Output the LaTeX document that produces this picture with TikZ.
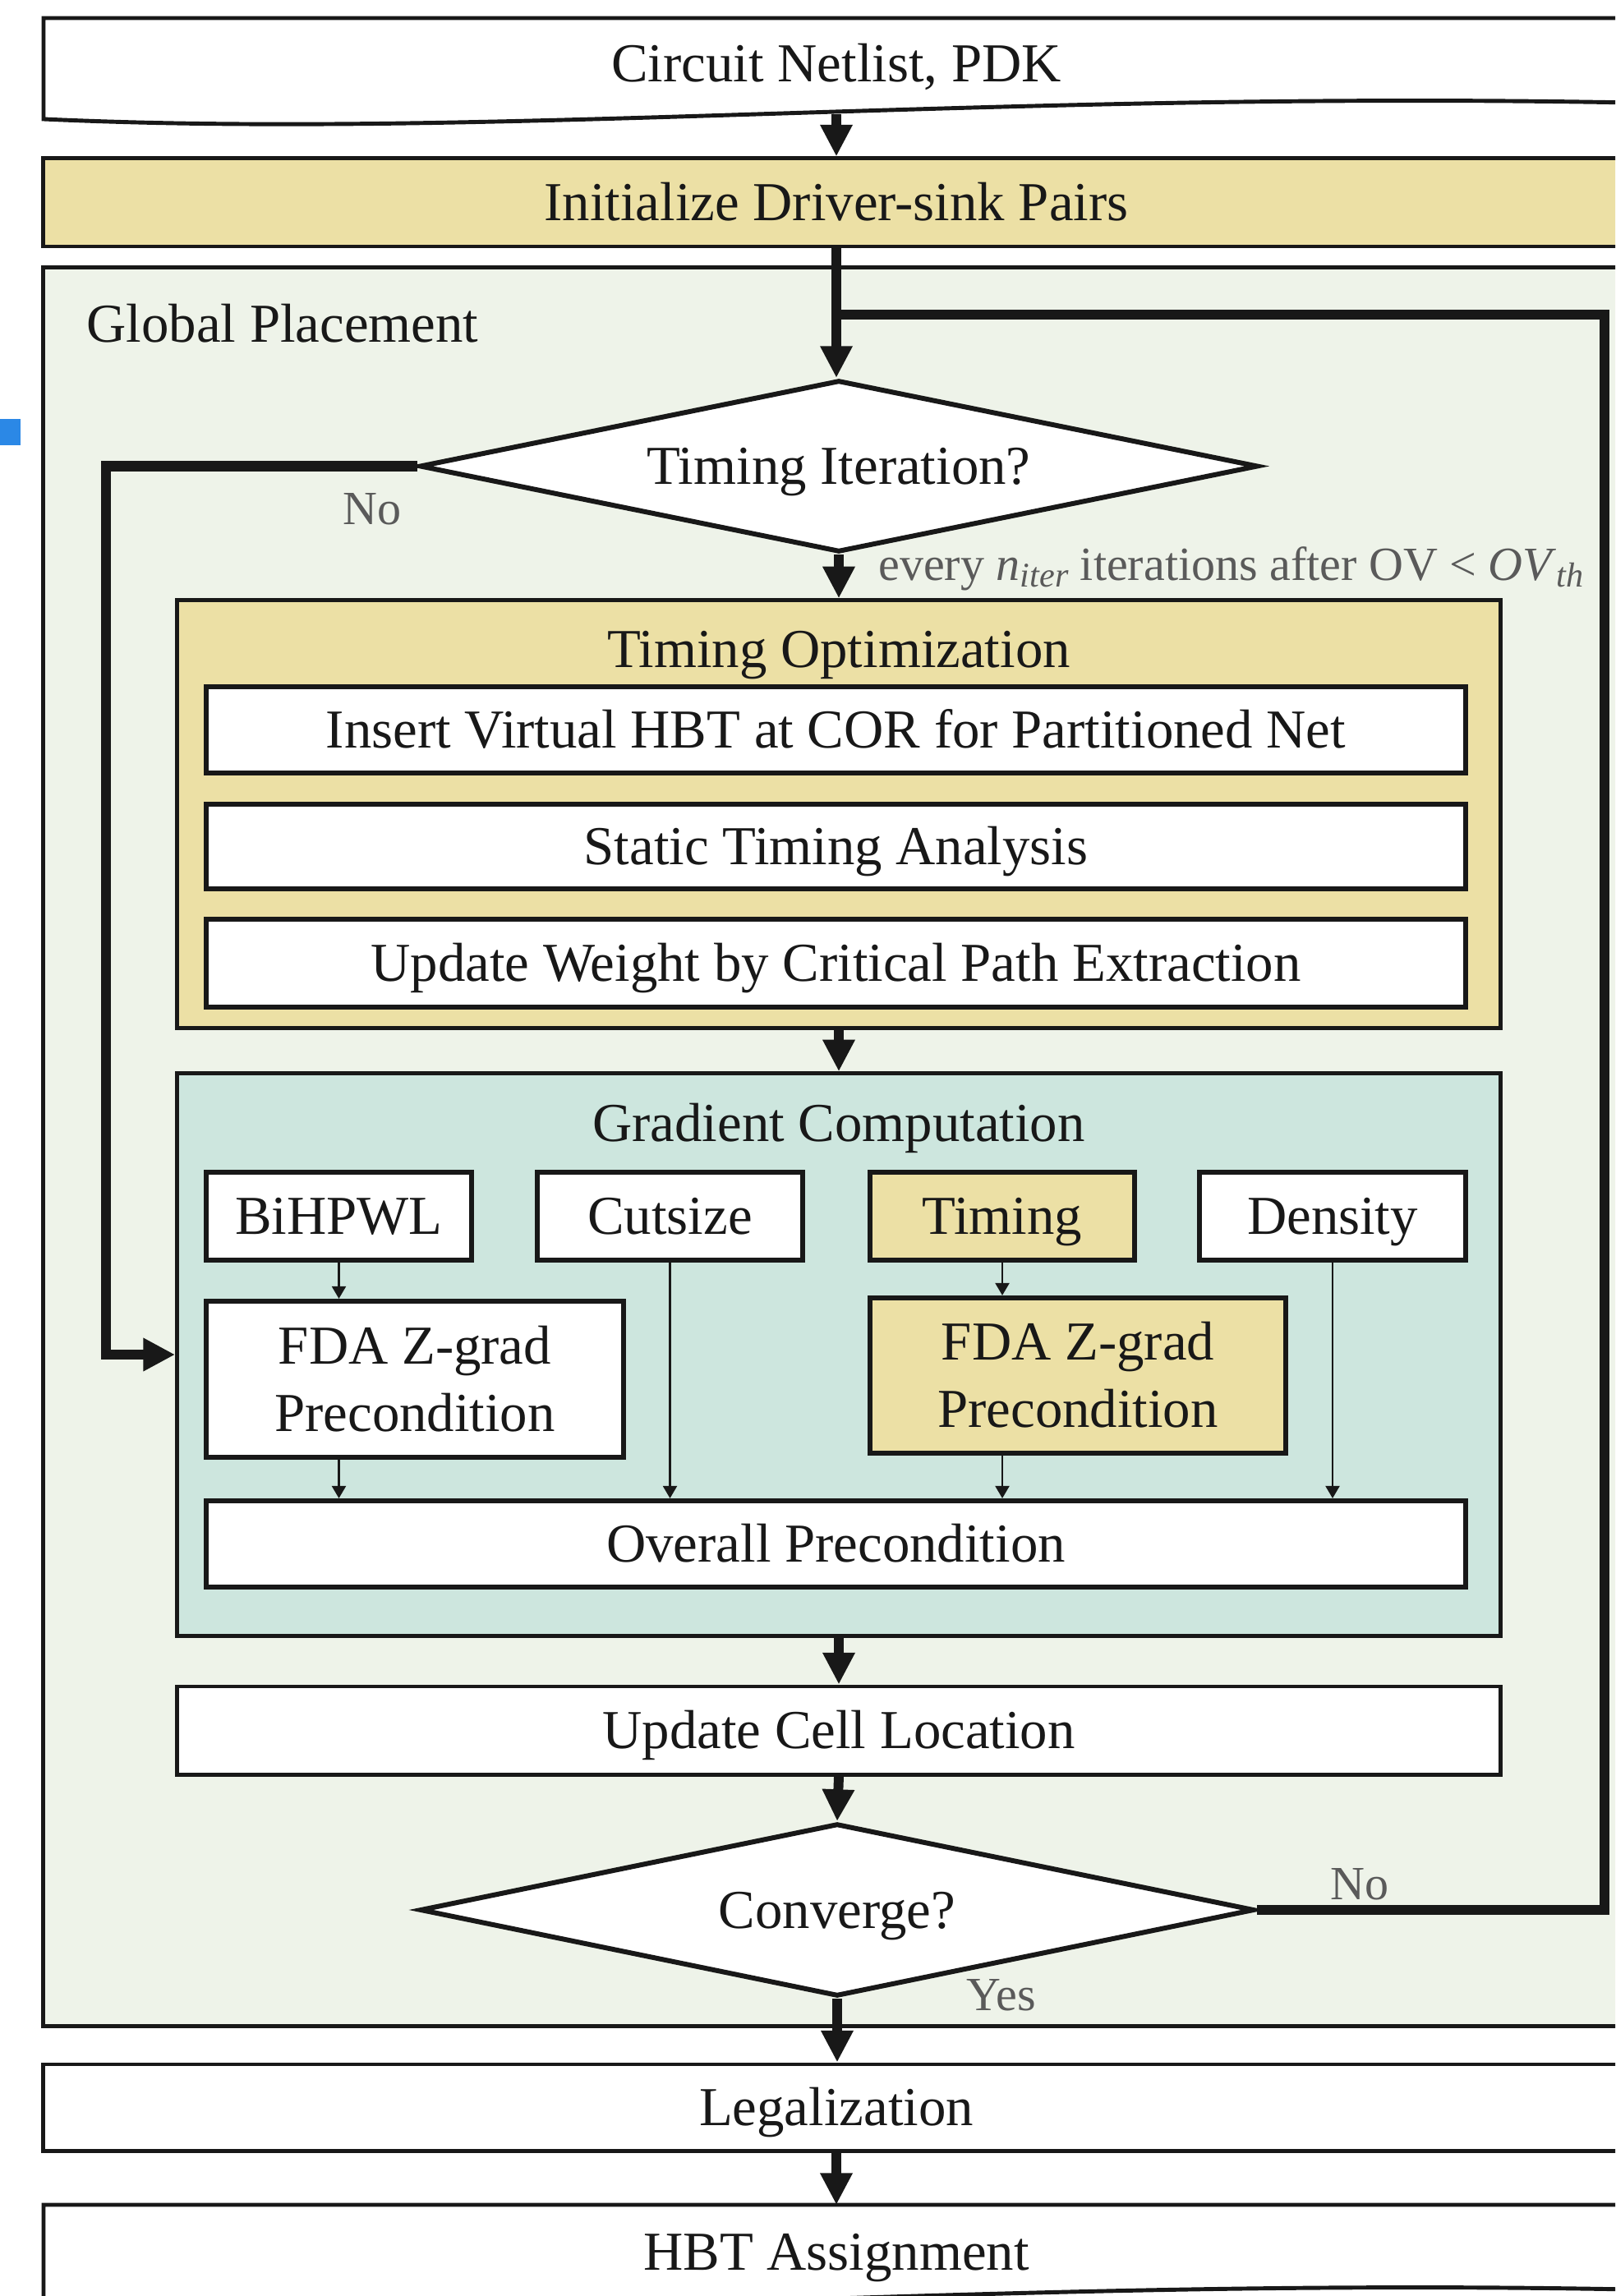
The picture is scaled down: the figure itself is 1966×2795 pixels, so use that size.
\documentclass[tikz,border=0pt]{standalone}
\usepackage{fontspec}
\setmainfont{Liberation Serif}
\usetikzlibrary{shapes.geometric,arrows.meta}
\definecolor{ylw}{RGB}{236,224,165}
\definecolor{bgg}{RGB}{238,243,233}
\definecolor{teal2}{RGB}{205,230,222}
\definecolor{ink}{RGB}{24,24,24}
\definecolor{lbl}{RGB}{90,90,90}
\definecolor{bluem}{RGB}{43,136,230}
\newcommand{\mysub}[1]{\raisebox{-2.2pt}{\fontsize{12}{12}\selectfont\itshape #1}}
\begin{document}
\begin{tikzpicture}[x=0.01cm,y=-0.01cm,
  txt/.style={font=\fontsize{19}{23.3}\selectfont, text=ink, text height=14pt, text depth=1.4pt},
  smalllbl/.style={font=\fontsize{16.5}{20}\selectfont, text=lbl},
  box/.style={txt, draw=ink, line width=1.7pt, fill=white, inner sep=0pt, align=center},
  twoline/.style={text height=37.3pt, text depth=1.4pt},
  cont/.style={draw=ink, line width=1.4pt, inner sep=0pt},
  dia/.style={txt, diamond, draw=ink, line width=1.7pt, fill=white, inner sep=0pt},
  docst/.style={draw=ink, line width=1.4pt, fill=white},
  arr/.style={draw=ink, line width=3.4pt, -{Triangle[length=11pt,width=10.5pt]}},
  loopl/.style={draw=ink, line width=3.6pt, line join=miter},
  looparr/.style={draw=ink, line width=3.6pt, line join=miter, -{Triangle[length=11pt,width=10.8pt]}},
  sarr/.style={draw=ink, line width=0.8pt, -{Triangle[length=4.3pt,width=4.8pt]}}
]
\useasboundingbox (0,0) rectangle (1966,2795);
\clip (0,0) rectangle (1966,2795);
\fill[white] (0,0) rectangle (1966,2795);

% blue mark at left edge
\fill[bluem] (0,510) rectangle (25,542);

% input document shape
\path[docst] (53,22) -- (1983,22) -- (1983,125) .. controls (1200,110) and (600,170) .. (53,145) -- cycle;
\node[txt] (netlist) at (1018,77) {Circuit Netlist, PDK};
\coordinate (nlb) at (1018,139);

% initialize
\node[box, fill=ylw, line width=1.4pt, minimum width=19.30cm, minimum height=1.07cm] (init) at (1018,246.5) {Initialize Driver-sink Pairs};

% global placement container
\node[cont, fill=bgg, minimum width=19.30cm, minimum height=21.40cm] (gp) at (1018,1396) {};
\node[txt, anchor=west] (gplbl) at (93,394) {Global Placement};

% timing iteration diamond
\node[dia, aspect=4.88, minimum width=10.20cm, minimum height=2.09cm] (tio) at (1021,567.5) {Timing Iteration?};

% timing optimization
\node[cont, fill=ylw, minimum width=16.10cm, minimum height=5.20cm] (topt) at (1021,991) {};
\node[txt] (topttitle) at (1021,790) {Timing Optimization};
\node[box, minimum width=15.33cm, minimum height=1.05cm] (ins) at (1017.5,888.5) {Insert Virtual HBT at COR for Partitioned Net};
\node[box, minimum width=15.33cm, minimum height=1.03cm] (sta) at (1017.5,1030.5) {Static Timing Analysis};
\node[box, minimum width=15.33cm, minimum height=1.07cm] (upw) at (1017.5,1172.5) {Update Weight by Critical Path Extraction};

% gradient computation
\node[cont, fill=teal2, minimum width=16.10cm, minimum height=6.84cm] (grad) at (1021,1649) {};
\node[txt] (gradtitle) at (1021,1367) {Gradient Computation};
\node[box, minimum width=3.23cm, minimum height=1.06cm] (bihpwl) at (412.5,1480.5) {BiHPWL};
\node[box, minimum width=3.23cm, minimum height=1.06cm] (cut) at (815.5,1480.5) {Cutsize};
\node[box, fill=ylw, minimum width=3.21cm, minimum height=1.06cm] (tim) at (1220,1480.5) {Timing};
\node[box, minimum width=3.24cm, minimum height=1.06cm] (den) at (1622,1480.5) {Density};
\node[box, twoline, minimum width=5.08cm, minimum height=1.90cm] (fda1) at (505,1679) {FDA Z-grad\\Precondition};
\node[box, twoline, fill=ylw, minimum width=5.05cm, minimum height=1.89cm] (fda2) at (1312,1674.5) {FDA Z-grad\\Precondition};
\node[box, minimum width=15.33cm, minimum height=1.05cm] (overall) at (1017.5,1879.5) {Overall Precondition};

% update cell location
\node[box, line width=1.4pt, minimum width=16.10cm, minimum height=1.07cm] (ucl) at (1021,2106.5) {Update Cell Location};

% converge diamond
\node[dia, aspect=4.83, minimum width=10.15cm, minimum height=2.10cm] (conv) at (1019,2325) {Converge?};

% legalization
\node[box, line width=1.4pt, minimum width=19.30cm, minimum height=1.05cm] (leg) at (1018,2565.5) {Legalization};

% output document shape
\path[docst] (53,2684) -- (1983,2684) -- (1983,2787) .. controls (1200,2772) and (600,2832) .. (53,2807) -- cycle;
\node[txt] (hbt) at (1018,2741) {HBT Assignment};
\coordinate (hbtt) at (1018,2684);

% main flow arrows
\draw[arr] (nlb) -- (init.north);
\draw[arr] (init.south) -- (init.south |- tio.north);
\draw[arr] (tio.south) -- (tio.south |- topt.north);
\node[smalllbl, anchor=base west] (everylbl) at (1057,707) {every \textit{n}\mysub{iter} iterations after OV < \textit{OV}\mysub{th}};
\draw[arr] (topt.south) -- (grad.north);
\draw[arr] (grad.south) -- (ucl.north);
\draw[arr] (ucl.south) -- (conv.north);
\draw[arr] (conv.south) -- (conv.south |- leg.north);
\node[smalllbl] (yeslbl) at (1219,2429) {Yes};
\draw[arr] (leg.south) -- (hbtt);

% "No" loop from timing iteration
\coordinate (nl) at (129,1649);
\draw[looparr] (tio.west) -| (nl) -- (grad.west);
\node[smalllbl] (nolbl1) at (453,620) {No};

% "No" loop from converge
\coordinate (rc) at (1953,383);
\coordinate (jn) at (1013,383);
\draw[loopl] (conv.east) -| (rc) -- (jn);
\node[smalllbl] (nolbl2) at (1655,2294) {No};

% gradient internal arrows
\draw[sarr] (bihpwl.south) -- (bihpwl.south |- fda1.north);
\draw[sarr] (bihpwl.south |- fda1.south) -- (bihpwl.south |- overall.north);
\draw[sarr] (cut.south) -- (cut.south |- overall.north);
\draw[sarr] (tim.south) -- (tim.south |- fda2.north);
\draw[sarr] (tim.south |- fda2.south) -- (tim.south |- overall.north);
\draw[sarr] (den.south) -- (den.south |- overall.north);
\end{tikzpicture}
\end{document}
